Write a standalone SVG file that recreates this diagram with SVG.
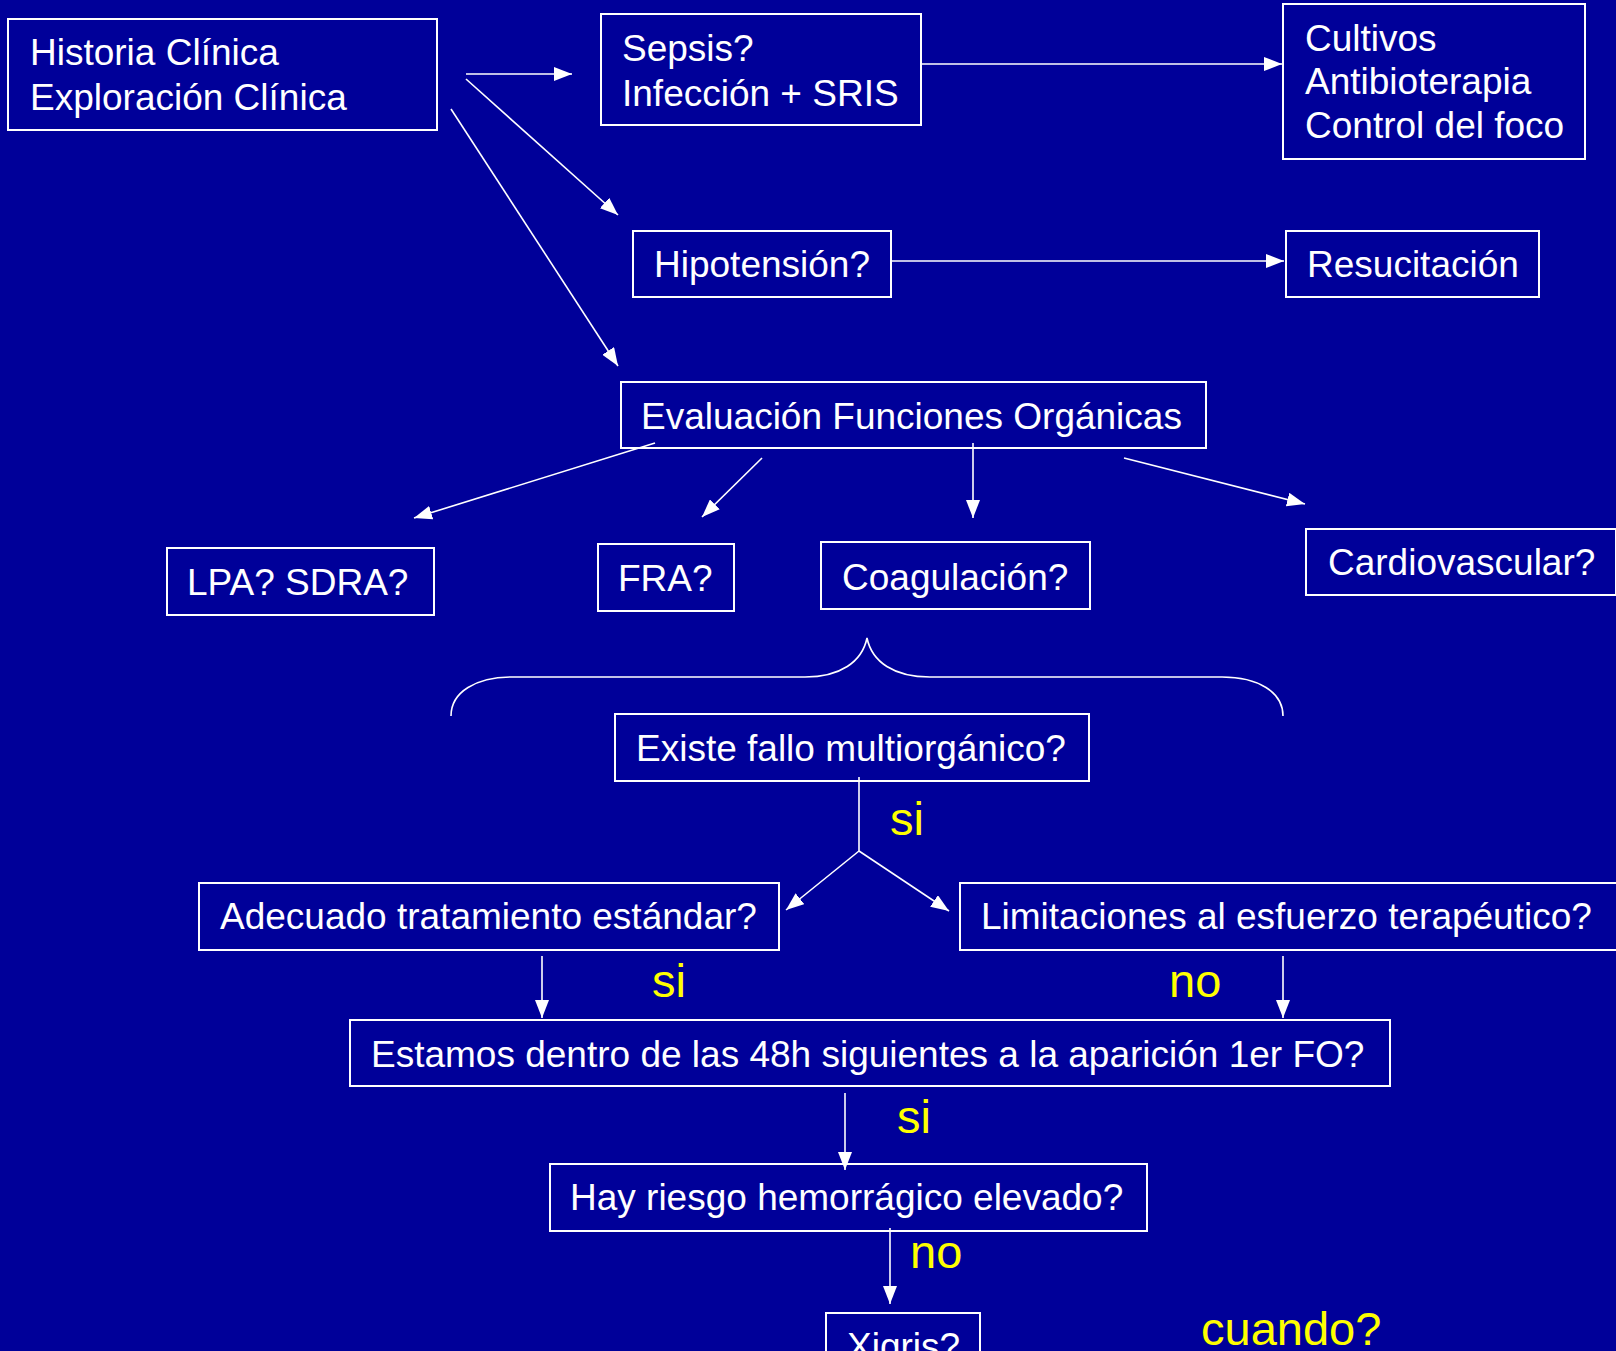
<svg xmlns="http://www.w3.org/2000/svg" width="1616" height="1351" viewBox="0 0 1616 1351">
<defs>
<marker id="ah" markerUnits="userSpaceOnUse" markerWidth="18" markerHeight="14" refX="18" refY="7" orient="auto">
<path d="M0,0 L18,7 L0,14 z" fill="#ffffff"/>
</marker>
<style>
.box{fill:none;stroke:#ffffff;stroke-width:2}
.t{font-family:"Liberation Sans",Arial,sans-serif;font-size:37px;fill:#ffffff}
.y{font-family:"Liberation Sans",Arial,sans-serif;font-size:47px;fill:#ffff00}
.c{fill:none;stroke:#ffffff;stroke-width:1.6}
.a{fill:none;stroke:#ffffff;stroke-width:1.6;marker-end:url(#ah)}
</style>
</defs>
<rect width="1616" height="1351" fill="#000099"/>
<g id="connectors">
<line class="a" x1="466" y1="74" x2="572" y2="74"/>
<line class="a" x1="466" y1="79" x2="618" y2="215"/>
<line class="a" x1="451" y1="109" x2="618" y2="366"/>
<line class="a" x1="921" y1="64" x2="1282" y2="64"/>
<line class="a" x1="891" y1="261" x2="1284" y2="261"/>
<line class="a" x1="655" y1="443" x2="414" y2="518"/>
<line class="a" x1="762" y1="458" x2="702" y2="517"/>
<line class="a" x1="973" y1="443" x2="973" y2="518"/>
<line class="a" x1="1124" y1="458" x2="1305" y2="504"/>
<path class="c" d="M451,716 C451,692 476,677 512,677 L805,677 C840,677 862,662 867,638 C872,662 894,677 930,677 L1222,677 C1258,677 1283,692 1283,716"/>
<line class="c" x1="859" y1="777" x2="859" y2="851"/>
<line class="a" x1="859" y1="851" x2="786" y2="910"/>
<line class="a" x1="859" y1="851" x2="949" y2="911"/>
<line class="a" x1="542" y1="956" x2="542" y2="1018"/>
<line class="a" x1="1283" y1="956" x2="1283" y2="1018"/>
<line class="a" x1="845" y1="1093" x2="845" y2="1170"/>
<line class="a" x1="890" y1="1228" x2="890" y2="1304"/>
</g>
<g id="historia"><rect class="box" x="8" y="19" width="429" height="111"/><text class="t" x="30" y="65">Historia Clínica</text><text class="t" x="30" y="110">Exploración Clínica</text></g>
<g id="sepsis"><rect class="box" x="601" y="14" width="320" height="111"/><text class="t" x="622" y="61">Sepsis?</text><text class="t" x="622" y="106">Infección + SRIS</text></g>
<g id="cultivos"><rect class="box" x="1283" y="4" width="302" height="155"/><text class="t" x="1305" y="51">Cultivos</text><text class="t" x="1305" y="94">Antibioterapia</text><text class="t" x="1305" y="138">Control del foco</text></g>
<g id="hipotension"><rect class="box" x="633" y="231" width="258" height="66"/><text class="t" x="654" y="277">Hipotensión?</text></g>
<g id="resucitacion"><rect class="box" x="1286" y="231" width="253" height="66"/><text class="t" x="1307" y="277">Resucitación</text></g>
<g id="evaluacion"><rect class="box" x="621" y="382" width="585" height="66"/><text class="t" x="641" y="429">Evaluación Funciones Orgánicas</text></g>
<g id="lpa"><rect class="box" x="167" y="548" width="267" height="67"/><text class="t" x="187" y="595">LPA? SDRA?</text></g>
<g id="fra"><rect class="box" x="598" y="544" width="136" height="67"/><text class="t" x="618" y="591">FRA?</text></g>
<g id="coagulacion"><rect class="box" x="821" y="542" width="269" height="67"/><text class="t" x="842" y="590">Coagulación?</text></g>
<g id="cardiovascular"><rect class="box" x="1306" y="529" width="310" height="66"/><text class="t" x="1328" y="575">Cardiovascular?</text></g>
<g id="existe"><rect class="box" x="615" y="714" width="474" height="67"/><text class="t" x="636" y="761">Existe fallo multiorgánico?</text></g>
<g id="adecuado"><rect class="box" x="199" y="883" width="580" height="67"/><text class="t" x="220" y="929">Adecuado tratamiento estándar?</text></g>
<g id="limitaciones"><rect class="box" x="960" y="883" width="660" height="67"/><text class="t" x="981" y="929">Limitaciones al esfuerzo terapéutico?</text></g>
<g id="estamos"><rect class="box" x="350" y="1020" width="1040" height="66"/><text class="t" x="371" y="1067">Estamos dentro de las 48h siguientes a la aparición 1er FO?</text></g>
<g id="hay"><rect class="box" x="550" y="1164" width="597" height="67"/><text class="t" x="570" y="1210">Hay riesgo hemorrágico elevado?</text></g>
<g id="xigris"><rect class="box" x="826" y="1313" width="154" height="67"/><text class="t" x="847" y="1359">Xigris?</text></g>
<g id="labels">
<text class="y" x="890" y="835">si</text>
<text class="y" x="652" y="997">si</text>
<text class="y" x="1169" y="997">no</text>
<text class="y" x="897" y="1133">si</text>
<text class="y" x="910" y="1268">no</text>
<text class="y" x="1201" y="1345">cuando?</text>
</g>
</svg>
